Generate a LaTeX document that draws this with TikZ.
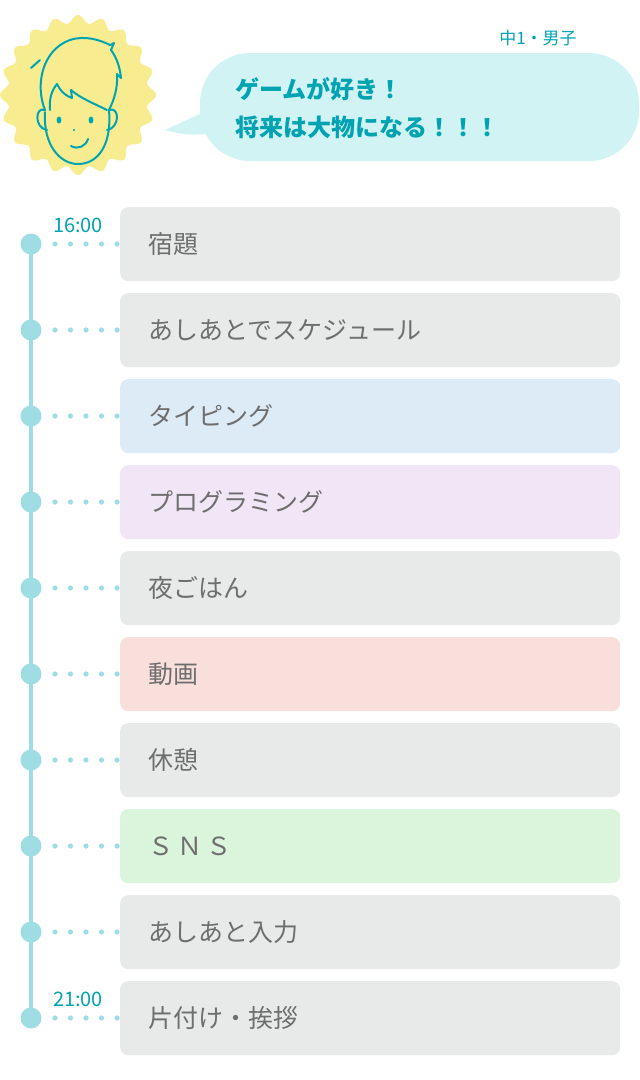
\documentclass[tikz,border=0pt]{standalone}
\usepackage{fontspec}
\newfontfamily\cjk{Noto Sans CJK JP}
\definecolor{teal1}{HTML}{00A3B1}
\definecolor{line1}{HTML}{9EDDE3}
\definecolor{bub}{HTML}{D2F3F4}
\definecolor{sun}{HTML}{F8EC91}
\definecolor{gbox}{HTML}{E8E9E9}
\definecolor{bbox}{HTML}{DDEBF7}
\definecolor{pbox}{HTML}{F1E6F6}
\definecolor{rbox}{HTML}{F9DFDC}
\definecolor{nbox}{HTML}{DAF5DC}
\definecolor{txt}{HTML}{6E6E6E}
\tikzset{
  item/.style={fill=#1, rounded corners=8pt, minimum width=500pt, minimum height=74pt, anchor=north west, inner sep=0pt},
  lbl/.style={font=\cjk\fontsize{25}{25}\selectfont, text=txt, anchor=west},
  dotc/.style={circle, fill=line1, minimum size=21pt, inner sep=0pt},
  tm/.style={font=\cjk\fontsize{20}{20}\selectfont, text=teal1},
  facel/.style={draw=teal1, line width=2pt, line cap=round, line join=round}
}
\begin{document}
\begin{tikzpicture}[x=1pt,y=-1pt]
\useasboundingbox (0,0) rectangle (640,1080);
% sun badge
\fill[sun] plot[domain=0:360, samples=300, smooth] ({78+(74+4*cos(20*\x))*cos(\x)},{95+(76+4*cos(20*\x))*sin(\x)});
% face
\draw[facel] (45,112) .. controls (43,145) and (60,164) .. (78,164) .. controls (98,164) and (112,145) .. (109,110);
\draw[facel] (45,110) .. controls (35,106) and (34,128) .. (47,130);
\draw[facel] (109,110) .. controls (120,106) and (120,128) .. (107,130);
\draw[facel] (45,110) .. controls (35,85) and (42,50) .. (70,40) .. controls (85,35) and (100,40) .. (110,45) -- (114,43) -- (111,50) .. controls (117,58) and (120,68) .. (121,78) -- (117,74) .. controls (118,88) and (114,100) .. (109,110);
\draw[facel] (31,68) -- (40,60);
\draw[facel] (50,110) .. controls (49,98) and (52,90) .. (57,84) .. controls (61,92) and (66,96) .. (72,98) -- (71,90) .. controls (80,98) and (95,104) .. (107,110);
\fill[teal1] (59,120) ellipse (2.4pt and 3.5pt) (91,120) ellipse (2.4pt and 3.5pt) (74,130) circle (1.2pt);
\draw[facel] (71,146) .. controls (78,150) and (86,146) .. (88,139);
% bubble
\fill[bub] (165,130) .. controls (185,136) and (200,135) .. (212,133) -- (230,100) -- cycle;
\fill[bub, rounded corners=50pt] (200,53) rectangle (639,161);
\node[font=\cjk\fontsize{17}{17}\selectfont, text=teal1] (grade) at (538,38) {中1・男子};
\node[font=\cjk\bfseries\fontsize{24}{38}\selectfont, text=teal1, align=left, anchor=west] (msg) at (232,108) {ゲームが好き！\\将来は大物になる！！！};
% timeline
\draw[line1, line width=4pt] (31,244) -- (31,1019);
\foreach \i/\c/\t in {0/gbox/宿題,1/gbox/あしあとでスケジュール,2/bbox/タイピング,3/pbox/プログラミング,4/gbox/夜ごはん,5/rbox/動画,6/gbox/休憩,7/nbox/Ｓ\,Ｎ\,Ｓ,8/gbox/あしあと入力,9/gbox/片付け・挨拶}{
  \node[item=\c] (b\i) at (120,{207+86*\i}) {};
  \node[lbl] (t\i) at ([xshift=25pt]b\i.west) {\t};
  \node[dotc] (d\i) at (31,{244+86*\i}) {};
  \foreach \k in {0,...,4} \fill[line1] ({55+15.5*\k},{244+86*\i}) circle (2.6pt);
}
\node[tm] (s) at (78,225) {16:00};
\node[tm] (e) at (78,999) {21:00};
\end{tikzpicture}
\end{document}
